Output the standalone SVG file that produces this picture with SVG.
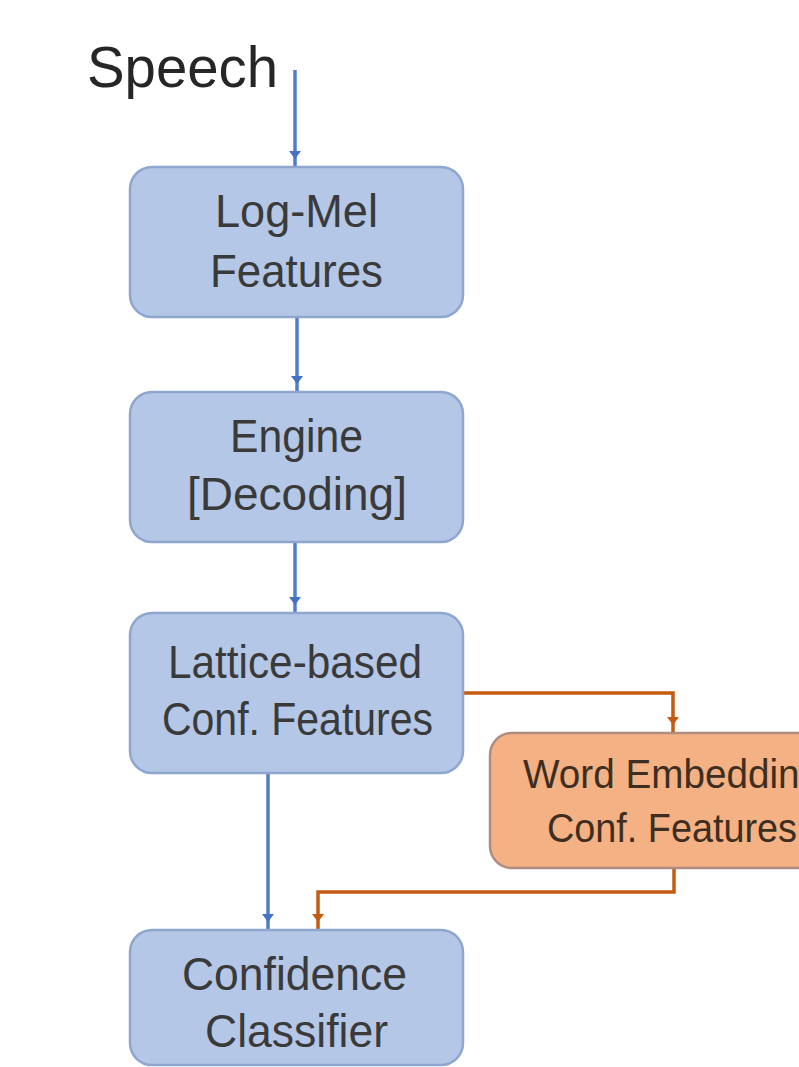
<svg xmlns="http://www.w3.org/2000/svg" width="799" height="1067" viewBox="0 0 799 1067">
  <defs>
    <style>
      .blue { fill: #B4C7E7; stroke: #8FA6CF; stroke-width: 2.5; }
      .orange { fill: #F4B183; stroke: #B08C80; stroke-width: 2.5; }
      .lbl { font-family: "Liberation Sans", Arial, sans-serif; font-size: 46px; fill: #3A3A3A; text-anchor: middle; }
      .olbl { font-family: "Liberation Sans", Arial, sans-serif; font-size: 40px; fill: #3E2E22; text-anchor: middle; }
      .title { font-family: "Liberation Sans", Arial, sans-serif; font-size: 57px; fill: #262626; }
      .cb { fill: none; stroke: #4F7DCB; stroke-width: 3.5; }
      .co { fill: none; stroke: #C55A11; stroke-width: 3.5; }
    </style>
    <marker id="ab" viewBox="0 0 20 12" refX="18" refY="6" markerWidth="20" markerHeight="12" markerUnits="userSpaceOnUse" orient="auto">
      <polygon points="2,0 10,6 2,12" fill="#4472C4"/>
    </marker>
    <marker id="ao" viewBox="0 0 20 12" refX="18" refY="6" markerWidth="20" markerHeight="12" markerUnits="userSpaceOnUse" orient="auto">
      <polygon points="2,0 10,6 2,12" fill="#C55A11"/>
    </marker>
  </defs>

  <text class="title" x="87" y="87" textLength="191" lengthAdjust="spacingAndGlyphs">Speech</text>

  <g id="connectors">
    <path class="cb" d="M295,70 V167" marker-end="url(#ab)"/>
    <path class="cb" d="M297,317 V392" marker-end="url(#ab)"/>
    <path class="cb" d="M295,542 V613" marker-end="url(#ab)"/>
    <path class="cb" d="M268,773 V930" marker-end="url(#ab)"/>
    <path class="co" d="M463,693 H673 V733" marker-end="url(#ao)"/>
    <path class="co" d="M674,868 V892 H318 V930" marker-end="url(#ao)"/>
  </g>

  <g id="logmel">
    <rect class="blue" x="130" y="167" width="333" height="150" rx="22"/>
    <text class="lbl" x="296.5" y="227" textLength="163" lengthAdjust="spacingAndGlyphs">Log-Mel</text>
    <text class="lbl" x="296.5" y="287" textLength="173" lengthAdjust="spacingAndGlyphs">Features</text>
  </g>

  <g id="engine">
    <rect class="blue" x="130" y="392" width="333" height="150" rx="22"/>
    <text class="lbl" x="296.5" y="452" textLength="133" lengthAdjust="spacingAndGlyphs">Engine</text>
    <text class="lbl" x="297" y="510" textLength="220" lengthAdjust="spacingAndGlyphs">[Decoding]</text>
  </g>

  <g id="lattice">
    <rect class="blue" x="130" y="613" width="333" height="160" rx="22"/>
    <text class="lbl" x="295" y="678" textLength="254" lengthAdjust="spacingAndGlyphs">Lattice-based</text>
    <text class="lbl" x="297.5" y="735" textLength="271" lengthAdjust="spacingAndGlyphs">Conf. Features</text>
  </g>

  <g id="wordemb">
    <rect class="orange" x="490" y="733" width="364" height="135" rx="22"/>
    <text class="olbl" x="672" y="788" textLength="298" lengthAdjust="spacingAndGlyphs">Word Embedding</text>
    <text class="olbl" x="672" y="842" textLength="250" lengthAdjust="spacingAndGlyphs">Conf. Features</text>
  </g>

  <g id="classifier">
    <rect class="blue" x="130" y="930" width="333" height="135" rx="22"/>
    <text class="lbl" x="294.5" y="990" textLength="225" lengthAdjust="spacingAndGlyphs">Confidence</text>
    <text class="lbl" x="296.5" y="1047" textLength="183" lengthAdjust="spacingAndGlyphs">Classifier</text>
  </g>
</svg>
